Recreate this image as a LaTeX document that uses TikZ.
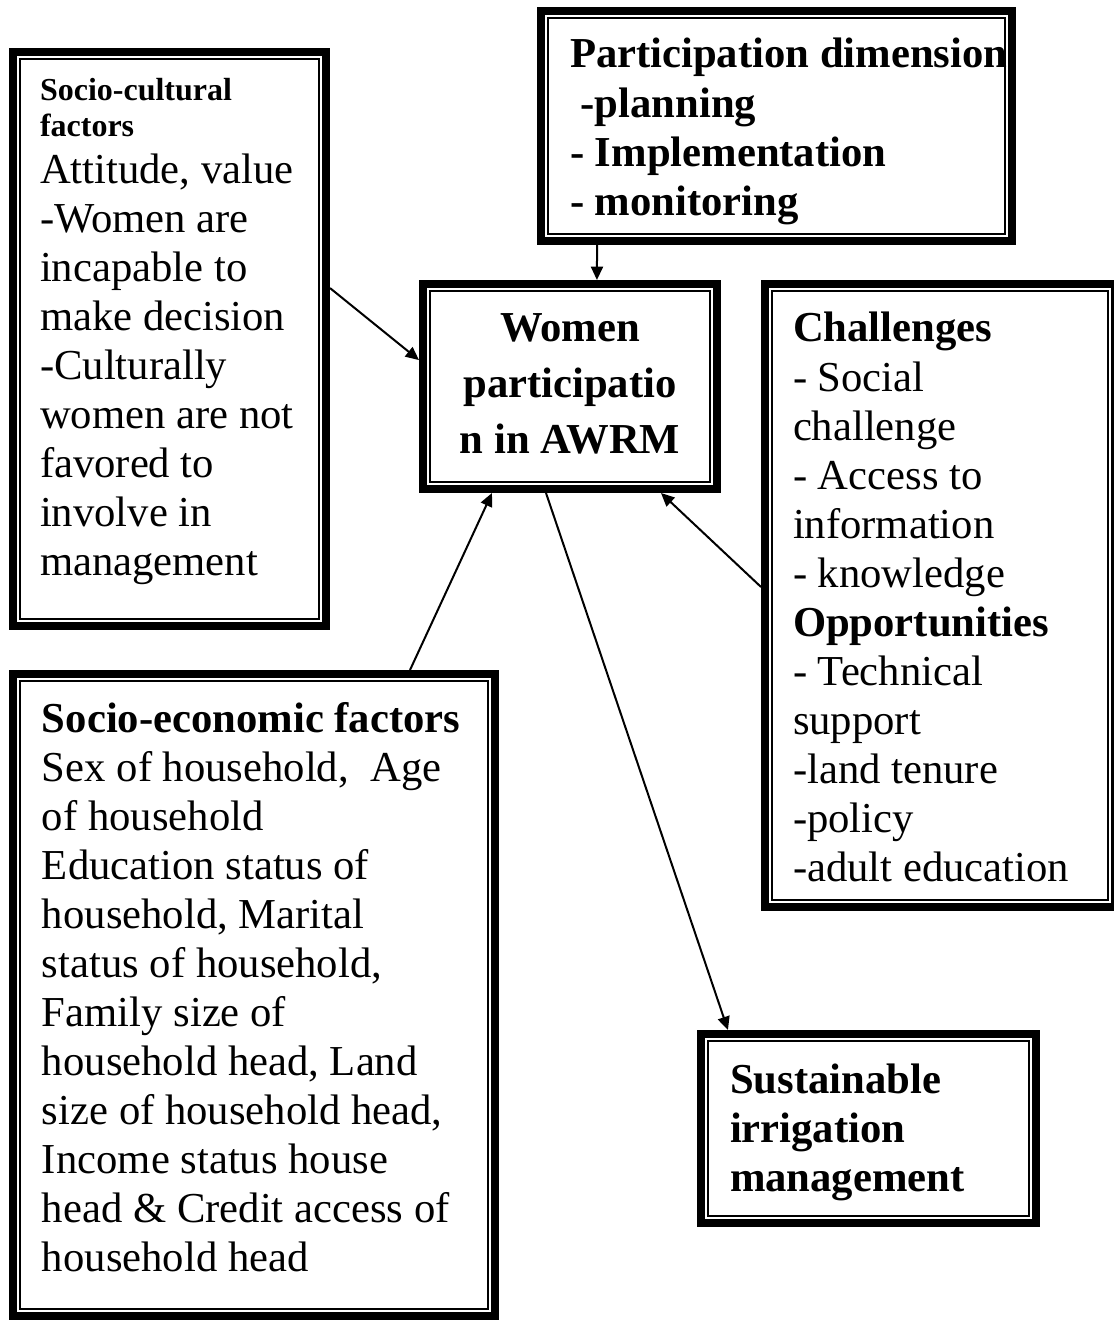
\documentclass[tikz,border=0pt]{standalone}
\usepackage{fontspec}
\setmainfont{Liberation Serif}
\usetikzlibrary{arrows.meta}
\tikzset{
	panel/.style n args={4}{draw, line width=3pt, outer sep=1.5pt, anchor=north west,
		inner ysep=0pt, inner xsep=(#2-4)*0.375pt, text width=(#1-2*#2)*0.375pt,
		text height=(#3-4)*0.375pt, text depth=(#4-4)*0.375pt, align=flush left,
		font=\fontsize{16}{18.4}\selectfont},
	rim/.style={line width=0.8pt},
	link/.style={line width=0.75pt, -{Triangle[length=5pt,width=4.5pt]}}
}
\begin{document}
\begin{tikzpicture}[x=0.375pt,y=-0.375pt]
		\useasboundingbox (0,0) rectangle (1113,1321);
		%Boxes
		\node[panel={321}{31}{53}{529}] (cult) at (9,48) {{\fontsize{12}{13.5}\selectfont\bfseries Socio-cultural\\ factors\\[-1.1pt]}\mbox{Attitude, value}\\ -Women are\\ incapable to\\ make decision\\ -Culturally\\ \mbox{women are not}\\ favored to\\ involve in\\ management};
		\node[panel={479}{33}{61}{177}, font=\fontsize{16}{18.4}\selectfont\bfseries] (dim) at (537,7) {\mbox{Participation dimension}\\ \hspace*{.25em}-planning\\ - Implementation\\ - monitoring};
		\node[panel={302}{20}{62}{151}, align=flush center, font=\fontsize{16}{21}\selectfont\bfseries] (wp) at (419,280) {Women\\ participatio\\ n in AWRM};
		\node[panel={358}{32}{62}{569}] (chal) at (761,280) {\textbf{Challenges}\\ - Social\\ challenge\\ - Access to\\ information\\ - knowledge\\ \textbf{Opportunities}\\ - Technical\\ support\\ -land tenure\\ -policy\\ \mbox{-adult education}};
		\node[panel={490}{33}{62}{588}] (econ) at (9,670) {\textbf{\mbox{Socio-economic factors}}\\ Sex of household,\ \ Age\\ of household\\ Education status of\\ household, Marital\\ status of household,\\ Family size of\\ household head, Land\\ size of household head,\\ Income status house\\ head \& Credit access of\\ household head};
		\node[panel={343}{33}{63}{134}, font=\fontsize{16}{18.4}\selectfont\bfseries] (sust) at (697,1030) {Sustainable\\ irrigation\\ management};
		%thin inner line of each border
		\foreach \b in {cult,dim,wp,chal,econ,sust}
		\draw[rim] ([shift={(4.25pt,-4.25pt)}]\b.north west) rectangle ([shift={(-4.25pt,4.25pt)}]\b.south east);
		%Arrows
		\draw[link] ([xshift=-67.3pt]dim.south) -- ([xshift=10.1pt]wp.north);
		\draw[link] ([yshift=19.1pt]cult.east) -- ([yshift=9.9pt]wp.west);
		\draw[link] ([xshift=58.5pt]econ.north) -- ([xshift=-29.25pt]wp.south);
		\draw[link] ([yshift=3.2pt]chal.west) -- ([xshift=-22.5pt]wp.south east);
		\draw[link] ([xshift=-9pt]wp.south) -- ([xshift=11.6pt]sust.north west);
\end{tikzpicture}
\end{document}
